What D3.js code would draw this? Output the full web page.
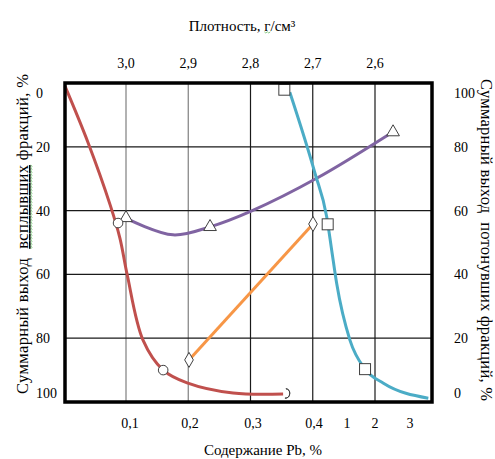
<!DOCTYPE html>
<html>
<head>
<meta charset="utf-8">
<script src="https://cdn.jsdelivr.net/npm/d3@7"></script>
<style>
  body { margin: 0; background: #fff; }
  svg { display: block; font-family: "Liberation Serif", "Times New Roman", serif; }
</style>
</head>
<body>
<svg width="495" height="459"></svg>
<script>
// tick values
var denTicks = [3.0, 2.9, 2.8, 2.7, 2.6];
var pbTicks = [0.1, 0.2, 0.3, 0.4, 1, 2, 3];
var yieldTicks = [0, 20, 40, 60, 80, 100];

// red: Pb content vs floats yield (left axis)
var redPb = [0, 0.038, 0.074, 0.090, 0.102, 0.127, 0.159, 0.197, 0.27, 0.351];
var redYield = [1, 18.8, 38.2, 48.6, 60.2, 80.6, 90.0, 94.0, 97.2, 97.5];
var redMarkPb = [0.087, 0.159, 0.354];
var redMarkYield = [43.9, 90.0, 97.3];

// purple: density vs floats yield (left axis)
var purDen = [2.998, 2.9245, 2.865, 2.798, 2.693, 2.579];
var purYield = [42.6, 47.6, 45.1, 40.1, 29.8, 16.3];
var purMarkDen = [3.0, 2.865, 2.571];
var purMarkYield = [42.3, 45.1, 15.4];

// orange: Pb content vs floats yield (left axis)
var orPb = [0.2, 0.4];
var orYield = [86.8, 44.2];

// cyan: Pb content vs sinks yield (right axis)
var cyPb = [0.362, 0.436, 0.649, 0.74, 0.83, 1.14, 1.68, 2.27, 3.42];
var cySinks = [97.1, 71.7, 58.1, 47.6, 37.2, 19.4, 10.3, 5.9, 1.2];
var cyMarkPb = [0.353, 0.667, 1.68];
var cyMarkSinks = [97.9, 55.7, 10.3];

var svg = d3.select("svg");

var pLeft = 65, pRight = 432, pTop = 83, pBottom = 402;

var xDen = d3.scaleLinear().domain([3.0, 2.6]).range([126, 375]);
var xPb = d3.scaleLinear()
    .domain([0, 0.1, 0.2, 0.3, 0.4, 1, 2, 3, 3.5])
    .range([65, 126, 189, 252, 313, 346, 374, 409, 432]);
var yL = d3.scaleLinear().domain([0, 100]).range([pTop, pBottom]);
var yR = d3.scaleLinear().domain([0, 100]).range([pBottom, pTop]);

function zip(a, b) { return a.map(function(v, i) { return [v, b[i]]; }); }

// grid
svg.append("g").selectAll("line")
    .data(denTicks)
    .enter().append("line")
    .attr("x1", function(d) { return xDen(d); })
    .attr("x2", function(d) { return xDen(d); })
    .attr("y1", pTop).attr("y2", pBottom)
    .attr("stroke", function(d, i) { return i < 2 ? "#7f7f7f" : "#1a1a1a"; })
    .attr("stroke-width", 1.2);

svg.append("g").selectAll("line")
    .data(yieldTicks.slice(1, 5))
    .enter().append("line")
    .attr("x1", pLeft).attr("x2", pRight)
    .attr("y1", function(d) { return yL(d); })
    .attr("y2", function(d) { return yL(d); })
    .attr("stroke", "#1a1a1a")
    .attr("stroke-width", 1.2);

// curves
var smooth = d3.line().curve(d3.curveCatmullRom.alpha(0.5));
var mono = d3.line().curve(d3.curveMonotoneX);

svg.append("path")
    .attr("d", smooth(zip(redPb, redYield).map(function(p) { return [xPb(p[0]), yL(p[1])]; })))
    .attr("fill", "none").attr("stroke", "#c0504d").attr("stroke-width", 3);

svg.append("path")
    .attr("d", smooth(zip(purDen, purYield).map(function(p) { return [xDen(p[0]), yL(p[1])]; })))
    .attr("fill", "none").attr("stroke", "#8064a2").attr("stroke-width", 3);

svg.append("path")
    .attr("d", d3.line()(zip(orPb, orYield).map(function(p) { return [xPb(p[0]), yL(p[1])]; })))
    .attr("fill", "none").attr("stroke", "#f79646").attr("stroke-width", 3);

svg.append("path")
    .attr("d", mono(zip(cyPb, cySinks).map(function(p) { return [xPb(p[0]), yR(p[1])]; })))
    .attr("fill", "none").attr("stroke", "#4bacc6").attr("stroke-width", 3);

// markers
var mk = { fill: "#fff", stroke: "#404040" };

svg.append("g").selectAll("path")
    .data(zip(purMarkDen, purMarkYield))
    .enter().append("path")
    .attr("transform", function(d) { return "translate(" + xDen(d[0]) + "," + yL(d[1]) + ")"; })
    .attr("d", d3.symbol(d3.symbolTriangle, 70))
    .attr("fill", mk.fill).attr("stroke", mk.stroke);

svg.append("g").selectAll("path")
    .data(zip(orPb, orYield))
    .enter().append("path")
    .attr("transform", function(d) { return "translate(" + xPb(d[0]) + "," + yL(d[1]) + ")"; })
    .attr("d", d3.symbol(d3.symbolDiamond, 65))
    .attr("fill", mk.fill).attr("stroke", mk.stroke);

svg.append("g").selectAll("rect")
    .data(zip(cyMarkPb, cyMarkSinks))
    .enter().append("rect")
    .attr("x", function(d) { return xPb(d[0]) - 5.5; })
    .attr("y", function(d) { return yR(d[1]) - 5.5; })
    .attr("width", 11).attr("height", 11)
    .attr("fill", mk.fill).attr("stroke", mk.stroke);

var redMarks = zip(redMarkPb, redMarkYield);
svg.append("g").selectAll("circle")
    .data(redMarks.slice(0, 2))
    .enter().append("circle")
    .attr("cx", function(d) { return xPb(d[0]); })
    .attr("cy", function(d) { return yL(d[1]); })
    .attr("r", 4.8)
    .attr("fill", mk.fill).attr("stroke", mk.stroke);

// last circle only shows its right half
svg.append("path")
    .datum(redMarks[2])
    .attr("transform", function(d) { return "translate(" + xPb(d[0]) + "," + yL(d[1]) + ")"; })
    .attr("d", d3.arc()({ innerRadius: 4.8, outerRadius: 4.8, startAngle: 0.2, endAngle: Math.PI }))
    .attr("fill", "none").attr("stroke", mk.stroke);

// frame
svg.append("rect")
    .attr("x", pLeft).attr("y", pTop)
    .attr("width", pRight - pLeft).attr("height", pBottom - pTop)
    .attr("fill", "none").attr("stroke", "#000").attr("stroke-width", 3.5);

// tick labels
svg.append("g").selectAll("text")
    .data(denTicks)
    .enter().append("text")
    .attr("x", function(d) { return xDen(d); })
    .attr("y", 68)
    .attr("text-anchor", "middle")
    .attr("font-size", 14)
    .text(function(d) { return d3.format(".1f")(d).replace(".", ","); });

svg.append("g").selectAll("text")
    .data(pbTicks)
    .enter().append("text")
    .attr("x", function(d) { return xPb(d) + (d === 0.1 ? 4 : 1); })
    .attr("y", 428)
    .attr("text-anchor", "middle")
    .attr("font-size", 14)
    .text(function(d) { return d < 1 ? String(d).replace(".", ",") : d; });

function labelY(v, s) {
  return Math.min(Math.max(s(v), pTop + 10), pBottom - 9) + 5;
}

svg.append("g").selectAll("text")
    .data(yieldTicks)
    .enter().append("text")
    .attr("x", 36)
    .attr("y", function(d) { return labelY(d, yL); })
    .attr("font-size", 14)
    .text(function(d) { return d; });

svg.append("g").selectAll("text")
    .data(yieldTicks)
    .enter().append("text")
    .attr("x", 454)
    .attr("y", function(d) { return labelY(d, yR); })
    .attr("font-size", 14)
    .text(function(d) { return d; });

// green spell-check squiggle under a tspan
function squiggle(parent, tspan, dy) {
  var b = tspan.node().getBBox();
  var pts = [];
  for (var x = b.x, k = 0; x <= b.x + b.width; x += 1.5, k++) {
    pts.push([x, b.y + b.height + dy + (k % 2 ? 1 : -0.2)]);
  }
  parent.append("path")
      .attr("d", d3.line()(pts))
      .attr("fill", "none").attr("stroke", "#6cbf6c").attr("stroke-width", 0.8);
}

// axis titles
var tt = svg.append("g");
var ttText = tt.append("text")
    .attr("x", 242).attr("y", 31)
    .attr("text-anchor", "middle").attr("font-size", 15)
    .attr("xml:space", "preserve");
ttText.append("tspan").text("Плотность, ");
var gSpan = ttText.append("tspan").text("г");
ttText.append("tspan").text("/см³");
squiggle(tt, gSpan, -2);

svg.append("text")
    .attr("x", 263).attr("y", 455)
    .attr("text-anchor", "middle").attr("font-size", 15)
    .text("Содержание Pb, %");

var lg = svg.append("g").attr("transform", "translate(28,234) rotate(-90)");
var lt = lg.append("text")
    .attr("text-anchor", "middle").attr("font-size", 16.5)
    .attr("textLength", 320).attr("lengthAdjust", "spacing")
    .attr("xml:space", "preserve");
lt.append("tspan").text("Суммарный выход  ");
var uSpan = lt.append("tspan").attr("text-decoration", "underline").text("всплывших");
lt.append("tspan").text(" фракций, %");
squiggle(lg, uSpan, -1);

svg.append("text")
    .attr("transform", "translate(481,240) rotate(90)")
    .attr("text-anchor", "middle").attr("font-size", 16.5)
    .attr("textLength", 322).attr("lengthAdjust", "spacing")
    .attr("xml:space", "preserve")
    .text("Суммарный выход  потонувших фракций, %");
</script>
</body>
</html>
